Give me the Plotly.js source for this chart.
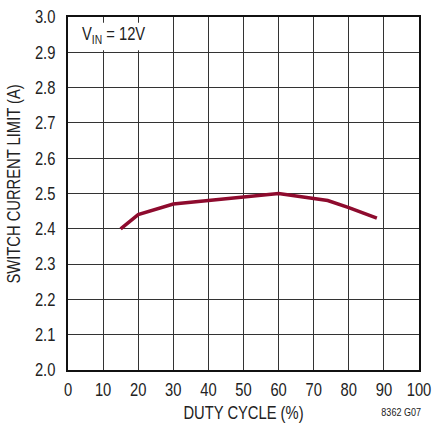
<!DOCTYPE html>
<html><head><meta charset="utf-8">
<script src="https://cdn.plot.ly/plotly-3.0.1.min.js"></script>
<style>body{margin:0;padding:0;background:#fff}#c{width:436px;height:436px}</style>
</head><body><div id="c"></div>
<script>
const dutyCycle = [15, 20, 30, 40, 50, 60, 74, 80, 88];
const currentLimit = [2.40, 2.44, 2.47, 2.48, 2.49, 2.50, 2.48, 2.46, 2.43];
const xTicks = [0,10,20,30,40,50,60,70,80,90,100];
const yTicks = [2.0,2.1,2.2,2.3,2.4,2.5,2.6,2.7,2.8,2.9,3.0];
const F = "'Liberation Sans',Arial,sans-serif";
const C = '#222';
Plotly.newPlot('c', [{
  x: dutyCycle, y: currentLimit, mode: 'lines', type: 'scatter',
  line: {color: '#8E0B2E', width: 3.5}, hoverinfo: 'skip'
}], {
  width: 436, height: 436,
  margin: {l: 68, r: 17, t: 17, b: 66},
  paper_bgcolor: '#fff', plot_bgcolor: '#fff',
  showlegend: false,
  font: {family: F, color: C, size: 18},
  xaxis: {range: [0, 100], tickvals: xTicks, ticktext: xTicks.map(String),
    showgrid: true, gridcolor: '#333', gridwidth: 1, zeroline: false,
    showline: true, linecolor: '#111', linewidth: 2, mirror: true,
    ticks: 'outside', ticklen: 2, tickcolor: 'rgba(0,0,0,0)', tickfont: {family: F, size: 18, color: C},
    title: {text: 'DUTY CYCLE (%)', font: {family: F, size: 18, color: C}, standoff: 8}},
  yaxis: {range: [2.0, 3.0], tickvals: yTicks, ticktext: yTicks.map(v => v.toFixed(1)),
    showgrid: true, gridcolor: '#333', gridwidth: 1, zeroline: false,
    showline: true, linecolor: '#111', linewidth: 2, mirror: true,
    ticks: 'outside', ticklen: 7, tickcolor: 'rgba(0,0,0,0)', tickfont: {family: F, size: 18, color: C}},
  shapes: [
    {type: 'rect', xref: 'paper', yref: 'paper', x0: 0.004, x1: 0.262, y0: 0.906, y1: 0.984,
     fillcolor: '#fff', line: {width: 0}, layer: 'above'}
  ],
  annotations: [
    {xref: 'paper', yref: 'paper', x: 0.131, y: 0.985, xanchor: 'center', yanchor: 'top',
     text: 'V<sub>IN</sub> = 12V', showarrow: false, font: {family: F, size: 18, color: C}},
    {xref: 'paper', yref: 'paper', x: -0.155, y: 0.527, xanchor: 'center', yanchor: 'middle',
     text: 'SWITCH CURRENT LIMIT (A)', textangle: -90, showarrow: false,
     font: {family: F, size: 18, color: C}},
    {xref: 'paper', yref: 'paper', x: 0.950, y: -0.119, xanchor: 'center', yanchor: 'middle',
     text: '8362 G07', showarrow: false, font: {family: F, size: 11, color: C}}
  ]
}, {staticPlot: true}).then(function (gd) {
  // emulate a condensed face: squeeze every text horizontally about its anchor
  const S = 0.82;
  gd.querySelectorAll('svg text').forEach(function (t) {
    const x = parseFloat(t.getAttribute('x')) || 0;
    const y = parseFloat(t.getAttribute('y')) || 0;
    const tr = t.getAttribute('transform') || '';
    t.setAttribute('transform', tr + ' translate(' + x + ',' + y + ') scale(' + S + ',1) translate(' + (-x) + ',' + (-y) + ')');
  });
});
</script></body></html>
